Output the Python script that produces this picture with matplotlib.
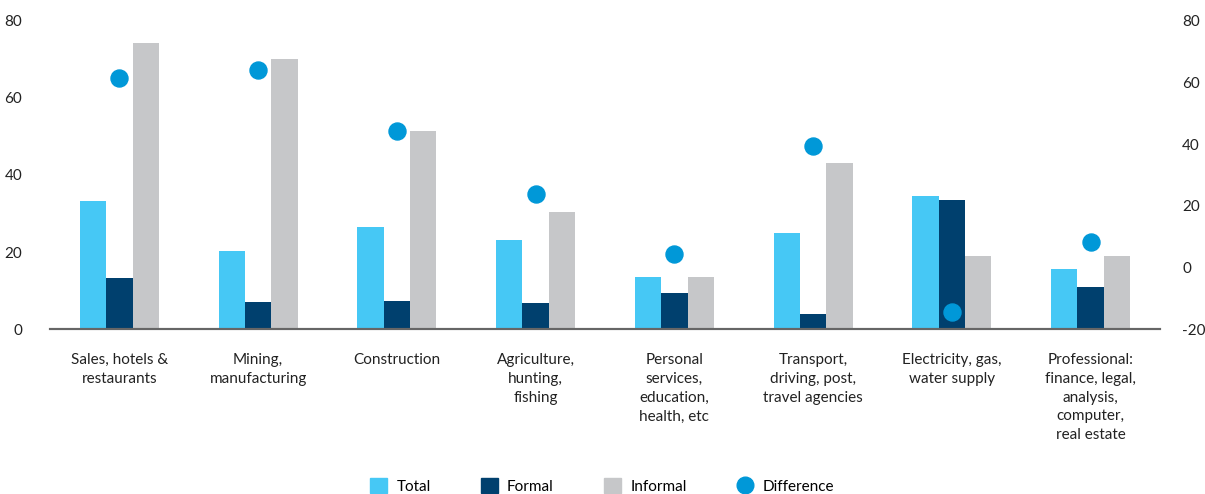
import matplotlib.pyplot as plt
import numpy as np
from matplotlib.lines import Line2D
from matplotlib.patches import Patch

plt.rcParams['font.family'] = ['Lato', 'DejaVu Sans']
plt.rcParams['axes.unicode_minus'] = False

categories = ["Sales, hotels &\nrestaurants", "Mining,\nmanufacturing", "Construction",
              "Agriculture,\nhunting,\nfishing", "Personal\nservices,\neducation,\nhealth, etc",
              "Transport,\ndriving, post,\ntravel agencies", "Electricity, gas,\nwater supply",
              "Professional:\nfinance, legal,\nanalysis,\ncomputer,\nreal estate"]
total = [33.2, 20.3, 26.6, 23.1, 13.5, 24.9, 34.5, 15.6]
formal = [13.3, 6.9, 7.4, 6.8, 9.4, 3.9, 33.4, 10.9]
informal = [74.4, 70.0, 51.4, 30.4, 13.5, 43.1, 18.9, 18.9]
difference = [61.4, 64.0, 44.3, 23.8, 4.4, 39.4, -14.4, 8.2]

c_total = "#46C8F5"
c_formal = "#00406E"
c_informal = "#C6C7C9"
c_diff = "#0098D8"

fig = plt.figure(figsize=(12.05, 4.94), dpi=100)
ax = fig.add_axes([0.0415, 0.334, 0.9212, 0.6235])
ax2 = ax.twinx()

x = np.arange(len(categories))
w = 0.19
ax.bar(x - w, total, w, color=c_total)
ax.bar(x, formal, w, color=c_formal)
ax.bar(x + w, informal, w, color=c_informal)
ax2.scatter(x, difference, s=150, color=c_diff, zorder=5)

ax.set_xlim(-0.5, 7.5)
ax.set_ylim(0, 80)
ax2.set_ylim(-20, 80)
ax.set_yticks([0, 20, 40, 60, 80])
ax2.set_yticks([-20, 0, 20, 40, 60, 80])
ax.set_xticks(x)
ax.set_xticklabels(categories, fontsize=11, color="#222222", linespacing=1.45, va="top")

for a in (ax, ax2):
    for s in ("left", "right", "top"):
        a.spines[s].set_visible(False)
    a.spines["bottom"].set_color("#666666")
    a.spines["bottom"].set_linewidth(1.5)
    a.tick_params(length=0, labelsize=11, colors="#222222")
ax.tick_params(axis="y", pad=20)
ax2.tick_params(axis="y", pad=16)
ax.tick_params(axis="x", pad=17)

handles = [Patch(color=c_total, label="Total"),
           Patch(color=c_formal, label="Formal"),
           Patch(color=c_informal, label="Informal"),
           Line2D([], [], marker="o", linestyle="", color=c_diff, markersize=12, label="Difference")]
fig.legend(handles=handles, loc="lower center", ncol=4, frameon=False, fontsize=11,
           bbox_to_anchor=(0.5, -0.017), borderpad=0.05, columnspacing=3.3, handlelength=1.1,
           handleheight=1.1, handletextpad=0.6)

fig.savefig("out.png", dpi=100)
